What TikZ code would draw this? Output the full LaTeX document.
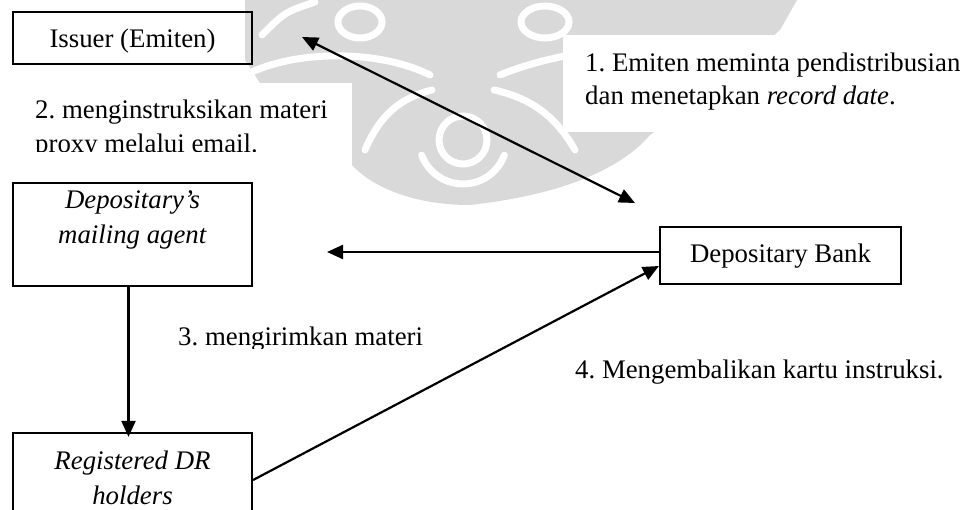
\documentclass[tikz,border=0pt]{standalone}
\usepackage{fontspec}
\setmainfont{Liberation Serif}
\usetikzlibrary{arrows.meta,calc}
\frenchspacing
\begin{document}
\begin{tikzpicture}[x=1pt,y=-1pt,
  box/.style={draw,line width=2.2pt,minimum width=239pt,inner sep=0pt,rectangle},
  txt/.style={inner sep=0pt,anchor=base west,font=\fontsize{26.8}{32}\selectfont},
  ctxt/.style={inner sep=0pt,anchor=base,font=\fontsize{26.8}{32}\selectfont},
  flow/.style={line width=2.2pt,-{Triangle[length=16pt,width=14pt]}},
  twoway/.style={line width=2.2pt,{Triangle[length=16pt,width=14pt]}-{Triangle[length=16pt,width=14pt]}},
  wm/.style={fill=black!15,draw=none},
  wmline/.style={draw=white,line width=7pt,line cap=round},
  patch/.style={fill=white,draw=none}]
\useasboundingbox (0,0) rectangle (963,510);

% faded emblem in the background
\fill[wm] (245,0) -- (797,0) -- (780,30) -- (700,100) -- (650,135)
  .. controls (620,170) and (560,195) .. (470,205)
  .. controls (410,205) and (370,185) .. (352,165)
  -- (352,83) -- (260,83) -- (245,60) -- cycle;
\draw[wmline] (463,140) circle (24);
\draw[wmline] ($(463,140)+(20:44)$) arc (20:160:44);
\draw[wmline] (262,35) .. controls (285,12) .. (315,2);
\draw[wmline] (252,72) .. controls (300,50) and (380,50) .. (430,75);
\draw[wmline] (365,150) .. controls (380,115) and (400,98) .. (432,90);
\draw[wmline] (494,90) .. controls (530,98) and (555,115) .. (575,150);
\draw[wmline] (500,75) .. controls (560,50) and (640,45) .. (700,40);
\draw[wmline] (360,22) ellipse (22 and 16);
\draw[wmline] (545,22) ellipse (24 and 16);

% white text backgrounds
\fill[patch] (563,35) rectangle (963,132);
\fill[patch] (12,83) rectangle (351,164);
\fill[patch] (155,312) rectangle (445,362);
\fill[patch] (553,343) rectangle (963,510);

% boxes
\node[box,minimum height=52pt] (issuer) at (132.5,38) {};
\node[ctxt] (issuerText) at (132.5,48) {Issuer (Emiten)};

\node[box,minimum height=103pt] (agent) at (132.5,234.5) {};
\node[ctxt] (agentA) at (132.5,209) {\textit{Depositary’s}};
\node[ctxt] (agentB) at (132.5,244) {\textit{mailing agent}};

\node[box,minimum height=100pt] (holders) at (132.5,483) {};
\node[ctxt] (holdersA) at (132.5,469) {\textit{Registered DR}};
\node[ctxt] (holdersB) at (132.5,504) {\textit{holders}};

\node[box,minimum width=241pt,minimum height=57pt] (bank) at (780.5,255.5) {};
\node[ctxt] (bankText) at (780.5,263) {Depositary Bank};

% step labels
\node[txt] (s1a) at (585,72) {1. Emiten meminta pendistribusian};
\node[txt] (s1b) at (585,105) {dan menetapkan \textit{record date}.};
\begin{scope}
  \clip (12,83) rectangle (351,152);
  \node[txt] (s2a) at (35,119) {2. menginstruksikan materi};
  \node[txt] (s2b) at (35,153) {proxy melalui email.};
\end{scope}
\begin{scope}
  \clip (155,312) rectangle (445,348);
  \node[txt] (s3) at (178,345) {3. mengirimkan materi};
\end{scope}
\node[txt] (s4) at (575,378) {4. Mengembalikan kartu instruksi.};

% connectors
\coordinate (e1a) at (302,37);
\coordinate (e1b) at (635,203);
\coordinate (e2) at (327,252);
\draw[twoway] (e1a) -- (e1b);
\draw[flow] (bank.west |- 0,252) -- (e2);
\draw[flow] ($(agent.south)+(-4,0)$) -- ($(holders.north)+(-4,5)$);
\draw[flow] (holders.east |- 0,480) -- (bank.west |- 0,266);
\end{tikzpicture}
\end{document}
